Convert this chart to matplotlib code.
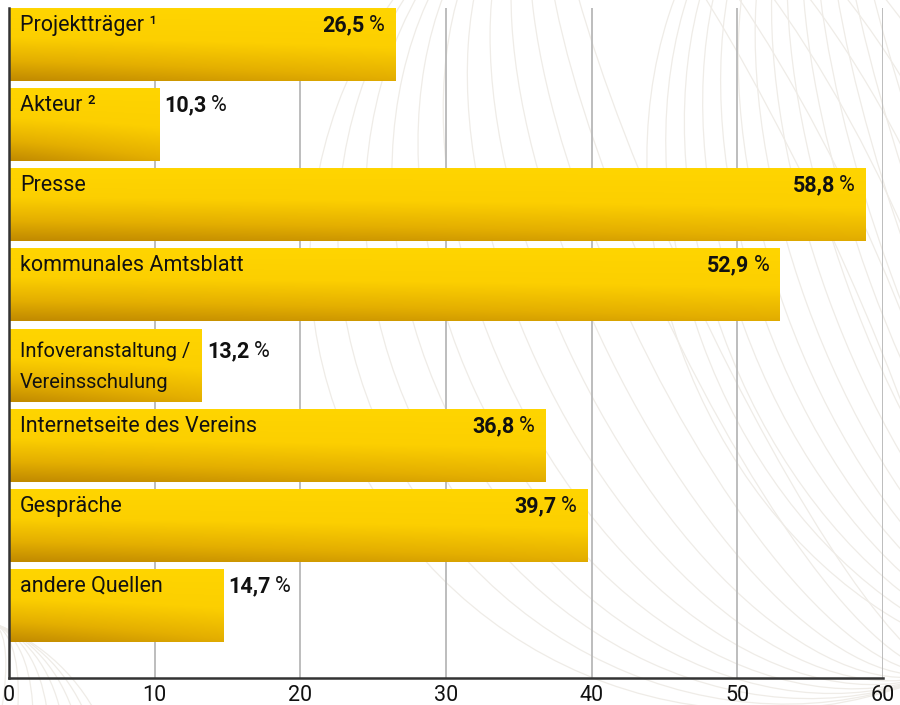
import matplotlib.pyplot as plt
import numpy as np
from matplotlib.patches import Ellipse
from matplotlib.colors import LinearSegmentedColormap

plt.rcParams['font.family'] = ['Roboto', 'DejaVu Sans']

# Data
categories = ["Projektträger ¹", "Akteur ²", "Presse", "kommunales Amtsblatt",
              "Infoveranstaltung /\nVereinsschulung", "Internetseite des Vereins",
              "Gespräche", "andere Quellen"]
values = [26.5, 10.3, 58.8, 52.9, 13.2, 36.8, 39.7, 14.7]
value_labels = ["26,5", "10,3", "58,8", "52,9", "13,2", "36,8", "39,7", "14,7"]
xticks = [0, 10, 20, 30, 40, 50, 60]

fig = plt.figure(figsize=(9, 7.05), dpi=100)

# faint decorative background curves
bg = fig.add_axes([0, 0, 1, 1], zorder=0)
bg.set_xlim(0, 900)
bg.set_ylim(705, 0)
bg.axis('off')
line_col = '#EFECE7'
for w in np.linspace(120, 700, 14):
    bg.add_patch(Ellipse((1010, 230), w, 900, angle=-20, fill=False, ec=line_col, lw=0.9))
for h in np.linspace(150, 900, 12):
    bg.add_patch(Ellipse((760, 260), 900, h, angle=65, fill=False, ec=line_col, lw=0.9))
for w in np.linspace(100, 400, 8):
    bg.add_patch(Ellipse((-80, 820), w, 420, angle=20, fill=False, ec=line_col, lw=0.9))

ax = fig.add_axes([9/900, 27/705, 874/900, 670/705], zorder=1)
ax.patch.set_alpha(0)

bar_h = 0.91
n = len(values)
ax.set_xlim(0, 60)
ax.set_ylim(n - 1 + bar_h/2 + 0.45, -bar_h/2)

# gradient for the bars
cmap = LinearSegmentedColormap.from_list(
    'gold', [(0.0, '#FFD500'), (0.4, '#FCCF00'), (0.72, '#E4AF00'), (1.0, '#C18A00')])
ys = np.linspace(0, 1, 64)[:, None]
xs = np.linspace(0, 1, 32)[None, :]

fs = 15.5
txt = '#111111'
for i, v in enumerate(values):
    top = i - bar_h/2
    bot = i + bar_h/2
    grad = ys * (1 - 0.25 * xs)
    ax.imshow(grad, cmap=cmap, vmin=0, vmax=1, aspect='auto',
              extent=(0, v, bot, top), zorder=2, interpolation='bilinear')
    # category label
    lines = categories[i].split('\n')
    dy = -12.5
    if len(lines) == 1:
        ax.annotate(categories[i], xy=(0, top), xytext=(8, dy), textcoords='offset points',
                    ha='left', va='center', fontsize=fs, color=txt, zorder=3)
    else:
        dy = -16.5
        ax.annotate(lines[0], xy=(0, top), xytext=(8, dy), textcoords='offset points',
                    ha='left', va='center', fontsize=14.5, color=txt, zorder=3)
        ax.annotate(lines[1], xy=(0, top), xytext=(8, -39), textcoords='offset points',
                    ha='left', va='center', fontsize=14.5, color=txt, zorder=3)
    # value label: bold number + normal %
    if v > 20:
        pct = ax.annotate("%", xy=(v, top), xytext=(-7.5, dy), textcoords='offset points',
                          ha='right', va='center', fontsize=fs, color=txt, zorder=3)
        ax.annotate(value_labels[i], xy=(0, 0.5), xycoords=pct, xytext=(-3, 0),
                    textcoords='offset points', ha='right', va='center',
                    fontsize=fs, fontweight='bold', color=txt, zorder=3)
    else:
        num = ax.annotate(value_labels[i], xy=(v, top), xytext=(4, dy), textcoords='offset points',
                          ha='left', va='center', fontsize=fs, fontweight='bold',
                          color=txt, zorder=3)
        ax.annotate("%", xy=(1, 0.5), xycoords=num, xytext=(3, 0),
                    textcoords='offset points', ha='left', va='center',
                    fontsize=fs, color=txt, zorder=3)

# grid
for x in xticks[1:]:
    ax.axvline(x, color='#B8B8B8', lw=1.3, zorder=1)

for s in ['top', 'right']:
    ax.spines[s].set_visible(False)
ax.spines['left'].set_color('#333333')
ax.spines['left'].set_linewidth(1.8)
ax.spines['bottom'].set_color('#333333')
ax.spines['bottom'].set_linewidth(1.8)
ax.set_yticks([])
ax.set_xticks(xticks)
ax.set_xticklabels([str(t) for t in xticks], fontsize=fs, color=txt)
ax.tick_params(axis='x', length=0, pad=5)

fig.savefig('out.png', dpi=100)
